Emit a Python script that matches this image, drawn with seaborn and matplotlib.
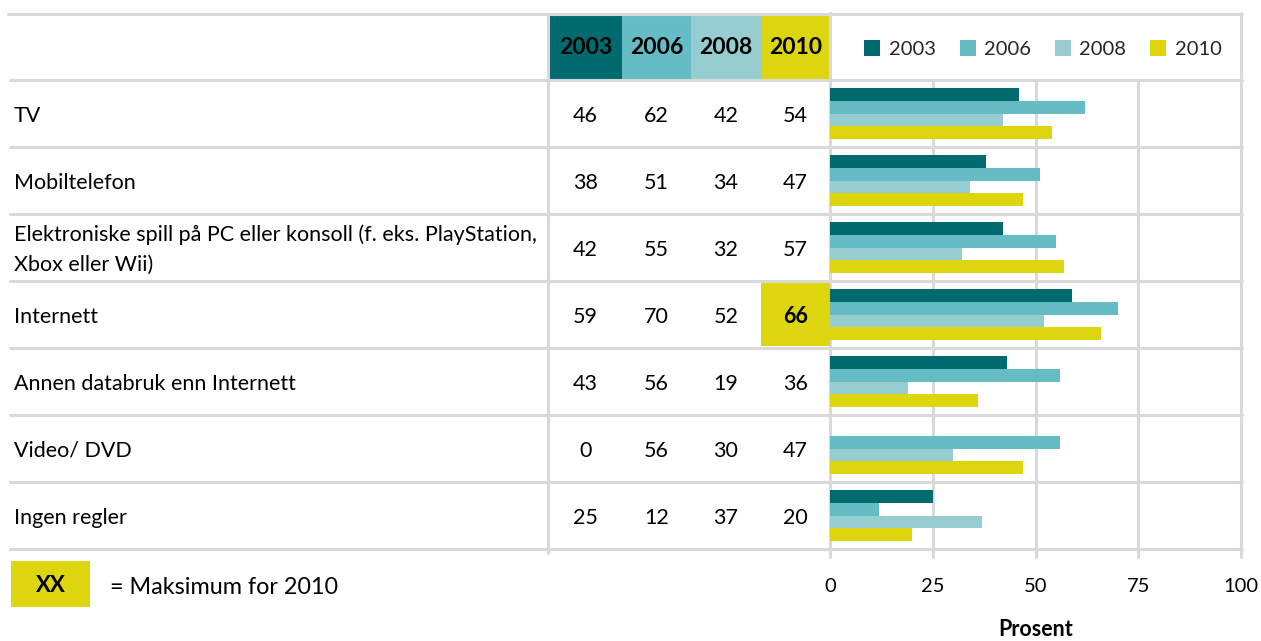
import matplotlib
matplotlib.use("Agg")
import matplotlib.pyplot as plt
import seaborn as sns
import pandas as pd
from matplotlib.transforms import blended_transform_factory
from matplotlib.patches import Rectangle

# ---------------- data ----------------
categories = [
    "TV",
    "Mobiltelefon",
    "Elektroniske spill på PC eller konsoll (f. eks. PlayStation,\nXbox eller Wii)",
    "Internett",
    "Annen databruk enn Internett",
    "Video/ DVD",
    "Ingen regler",
]
years = ["2003", "2006", "2008", "2010"]
v2003 = [46, 38, 42, 59, 43, 0, 25]
v2006 = [62, 51, 55, 70, 56, 56, 12]
v2008 = [42, 34, 32, 52, 19, 30, 37]
v2010 = [54, 47, 57, 66, 36, 47, 20]
x_ticks = [0, 25, 50, 75, 100]
x_label = "Prosent"
legend_note = "= Maksimum for 2010"

colors = ["#006B6E", "#65BCC5", "#95CDD0", "#DDD60E"]
grid_c = "#D9D9D9"

series = [v2003, v2006, v2008, v2010]
rows = []
for y, vals in zip(years, series):
    for c, v in zip(categories, vals):
        rows.append({"Kategori": c, "År": y, "Prosent": v})
df = pd.DataFrame(rows)

# ---------------- figure ----------------
sns.set_style("white")
plt.rcParams["font.family"] = ["Lato", "DejaVu Sans"]

W, H = 1261, 641
fig = plt.figure(figsize=(W / 100, H / 100), dpi=100)
fig.patch.set_facecolor("white")


def fx(px):
    return px / W


def fy(py):
    return 1 - py / H


ax = fig.add_axes([fx(830), fy(549), (1241 - 830) / W, (549 - 80) / H])
sns.barplot(
    data=df, y="Kategori", x="Prosent", hue="År", orient="h",
    order=categories, hue_order=years, palette=colors, saturation=1,
    width=0.75, linewidth=0, ax=ax, zorder=3,
)

ax.set_xlim(0, 100)
ax.set_ylim(len(categories) - 0.5, -0.5)
ax.set_xticks(x_ticks)
ax.set_yticks([])
ax.set_ylabel("")
for s in ax.spines.values():
    s.set_visible(False)
ax.grid(False)
ax.tick_params(axis="x", length=0, pad=21, labelsize=14.5, labelcolor="black")
ax.set_xlabel(x_label, fontweight="bold", fontsize=15.5, labelpad=17, color="black")

# transforms
tr_xdata_yfig = blended_transform_factory(ax.transData, fig.transFigure)
tr_xfig_ydata = blended_transform_factory(fig.transFigure, ax.transData)

# vertical grid lines
for t in x_ticks:
    top = fy(13) if t in (x_ticks[0], x_ticks[-1]) else fy(80)
    ax.plot([t, t], [top, fy(557)], transform=tr_xdata_yfig, color=grid_c,
            lw=2.2, clip_on=False, zorder=1)

# horizontal separators
n = len(categories)
for k in range(n + 1):
    yk = k - 0.5
    ax.plot([fx(10), fx(1242)], [yk, yk], transform=tr_xfig_ydata, color=grid_c,
            lw=2.2, clip_on=False, zorder=1)
# top line
fig.add_artist(plt.Line2D([fx(8), fx(1242)], [fy(14), fy(14)], color=grid_c, lw=2.2))
# table left border
fig.add_artist(plt.Line2D([fx(548), fx(548)], [fy(14), fy(553)], color=grid_c, lw=2.2))

# header cells
cell_edges = [549, 622, 691, 761, 830]
for j, y in enumerate(years):
    x0, x1 = cell_edges[j], cell_edges[j + 1]
    fig.add_artist(Rectangle((fx(x0), fy(80)), (x1 - x0) / W, (80 - 15) / H,
                             transform=fig.transFigure, facecolor=colors[j],
                             edgecolor="none", zorder=0))
    fig.text(fx((x0 + x1) / 2), fy(48), y, ha="center", va="center",
             fontsize=16.5, fontweight="bold", color="black")

# highlight max 2010
imax = max(range(n), key=lambda i: v2010[i])
ax.add_patch(Rectangle((fx(cell_edges[3]), imax - 0.47), (cell_edges[4] - cell_edges[3]) / W, 0.94,
                       transform=tr_xfig_ydata, facecolor=colors[3], edgecolor="none",
                       clip_on=False, zorder=1))

# table numbers and row labels
dy = 0.035
for i, cat in enumerate(categories):
    ax.text(fx(14), i + dy, cat, transform=tr_xfig_ydata, ha="left", va="center",
            fontsize=15.5, color="black", linespacing=1.6, clip_on=False)
    for j, vals in enumerate(series):
        x0, x1 = cell_edges[j], cell_edges[j + 1]
        bold = (j == 3 and i == imax)
        ax.text(fx((x0 + x1) / 2), i + dy, str(vals[i]), transform=tr_xfig_ydata,
                ha="center", va="center", fontsize=15.5,
                fontweight="bold" if bold else "normal", color="black",
                clip_on=False, zorder=4)

# legend
sns.move_legend(ax, "center", bbox_to_anchor=(0.518, 1.066), ncol=4, frameon=False,
                title=None, fontsize=14.5, handlelength=0.8, handleheight=0.8,
                handletextpad=0.4, columnspacing=1.2)

# bottom-left note
fig.add_artist(Rectangle((fx(11), fy(607)), (90 - 11) / W, (607 - 561) / H,
                         transform=fig.transFigure, facecolor=colors[3], edgecolor="none"))
fig.text(fx(50.5), fy(586), "XX", ha="center", va="center", fontsize=16,
         fontweight="bold", color="black")
fig.text(fx(110), fy(587), legend_note, ha="left", va="center", fontsize=16.8, color="black")

fig.savefig("out.png", dpi=100, facecolor="white")
